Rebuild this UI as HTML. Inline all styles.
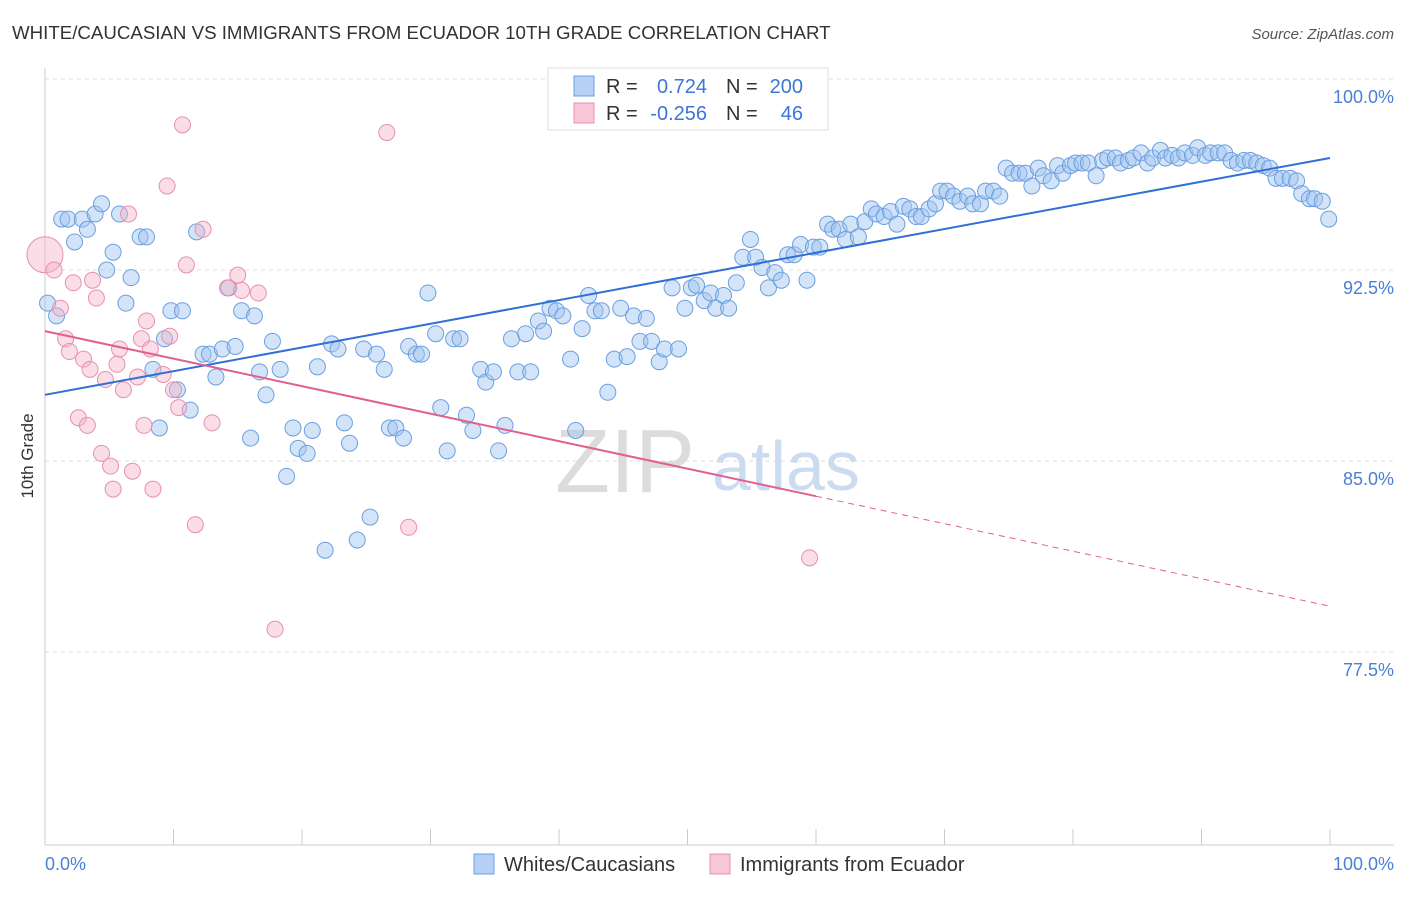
<!DOCTYPE html>
<html><head><meta charset="utf-8">
<style>
body{margin:0;background:#fff;font-family:"Liberation Sans",sans-serif;}
svg text{font-family:"Liberation Sans",sans-serif;}
</style></head>
<body>
<svg id="chart" width="1406" height="892" viewBox="0 0 1406 892" xmlns="http://www.w3.org/2000/svg">
<text x="12" y="39" font-size="18.7" fill="#333">WHITE/CAUCASIAN VS IMMIGRANTS FROM ECUADOR 10TH GRADE CORRELATION CHART</text>
<text x="1394" y="39" font-size="15" fill="#555" font-style="italic" text-anchor="end">Source: ZipAtlas.com</text>
<g id="grid"></g>
<g id="watermark">
<text x="555" y="492" font-size="90" fill="#dcdcdc" font-family="Liberation Serif">ZIP</text>
<text x="712" y="490" font-size="70" fill="#ccdcf0">atlas</text>
</g>
<g id="points"></g>
<g id="trends"></g>
<text transform="translate(33,456) rotate(-90)" font-size="17" fill="#333" text-anchor="middle">10th Grade</text>
<text x="45" y="870" font-size="18" fill="#4a7fd6">0.0%</text>
<text x="1394" y="870" font-size="18" fill="#4a7fd6" text-anchor="end">100.0%</text>
<g>
<rect x="548" y="68" width="280" height="62" fill="#fff" stroke="#ddd"/>
<rect x="574" y="76" width="20" height="20" fill="#b7d0f5" stroke="#6a9fe0"/>
<rect x="574" y="103" width="20" height="20" fill="#f8c8d8" stroke="#e890ad"/>
<text x="606" y="93" font-size="20" fill="#333">R = </text><text x="707" y="93" font-size="20" fill="#3c76d6" text-anchor="end">0.724</text>
<text x="726" y="93" font-size="20" fill="#333">N = </text><text x="803" y="93" font-size="20" fill="#3c76d6" text-anchor="end">200</text>
<text x="606" y="120" font-size="20" fill="#333">R = </text><text x="707" y="120" font-size="20" fill="#3c76d6" text-anchor="end">-0.256</text>
<text x="726" y="120" font-size="20" fill="#333">N = </text><text x="803" y="120" font-size="20" fill="#3c76d6" text-anchor="end">46</text>
</g>
<g>
<rect x="474" y="854" width="20" height="20" fill="#b7d0f5" stroke="#6a9fe0"/>
<text x="504" y="871" font-size="20" fill="#333">Whites/Caucasians</text>
<rect x="710" y="854" width="20" height="20" fill="#f8c8d8" stroke="#e890ad"/>
<text x="740" y="871" font-size="20" fill="#333">Immigrants from Ecuador</text>
</g>
</svg>
<script>
const yTicks=[100,92.5,85,77.5];
const yTickLabels=["100.0%","92.5%","85.0%","77.5%"];
const xTicks=[0,10,20,30,40,50,60,70,80,90,100];
const blueX=[0.2,0.9,1.3,1.8,2.3,2.9,3.3,3.9,4.4,4.8,5.3,5.8,6.3,6.7,7.4,7.9,8.4,8.9,9.3,9.8,10.3,10.7,11.3,11.8,12.3,12.8,13.3,13.8,14.3,14.8,15.3,16.0,16.3,16.7,17.2,17.7,18.3,18.8,19.3,19.7,20.4,20.8,21.2,21.8,22.3,22.8,23.3,23.7,24.3,24.8,25.3,25.8,26.4,26.8,27.3,27.9,28.3,28.9,29.3,29.8,30.4,30.8,31.3,31.8,32.3,32.8,33.3,33.9,34.3,34.9,35.3,35.8,36.3,36.8,37.4,37.8,38.4,38.8,39.3,39.8,40.3,40.9,41.3,41.8,42.3,42.8,43.3,43.8,44.3,44.8,45.3,45.8,46.3,46.8,47.2,47.8,48.2,48.8,49.3,49.8,50.3,50.7,51.3,51.8,52.2,52.8,53.2,53.8,54.3,54.9,55.3,55.8,56.3,56.8,57.3,57.8,58.3,58.8,59.3,59.8,60.3,60.9,61.3,61.8,62.3,62.7,63.3,63.8,64.3,64.7,65.3,65.8,66.3,66.8,67.3,67.8,68.2,68.8,69.3,69.7,70.2,70.7,71.2,71.8,72.2,72.8,73.2,73.8,74.3,74.8,75.3,75.8,76.3,76.8,77.3,77.7,78.3,78.8,79.2,79.8,80.2,80.7,81.2,81.8,82.3,82.7,83.3,83.7,84.3,84.7,85.3,85.8,86.2,86.8,87.2,87.7,88.2,88.7,89.3,89.7,90.3,90.7,91.3,91.8,92.3,92.8,93.3,93.8,94.3,94.8,95.3,95.8,96.3,96.9,97.4,97.8,98.4,98.8,99.4,99.9];
const blueY=[91.2,90.7,94.5,94.5,93.6,94.5,94.1,94.7,95.1,92.5,93.2,94.7,91.2,92.2,93.8,93.8,88.6,86.3,89.8,90.9,87.8,90.9,87.0,94.0,89.2,89.2,88.3,89.4,91.8,89.5,90.9,85.9,90.7,88.5,87.6,89.7,88.6,84.4,86.3,85.5,85.3,86.2,88.7,81.5,89.6,89.4,86.5,85.7,81.9,89.4,82.8,89.2,88.6,86.3,86.3,85.9,89.5,89.2,89.2,91.6,90.0,87.1,85.4,89.8,89.8,86.8,86.2,88.6,88.1,88.5,85.4,86.4,89.8,88.5,90.0,88.5,90.5,90.1,91.0,90.9,90.7,89.0,86.2,90.2,91.5,90.9,90.9,87.7,89.0,91.0,89.1,90.7,89.7,90.6,89.7,88.9,89.4,91.8,89.4,91.0,91.8,91.9,91.3,91.6,91.0,91.5,91.0,92.0,93.0,93.7,93.0,92.6,91.8,92.4,92.1,93.1,93.1,93.5,92.1,93.4,93.4,94.3,94.1,94.1,93.7,94.3,93.8,94.4,94.9,94.7,94.6,94.8,94.3,95.0,94.9,94.6,94.6,94.9,95.1,95.6,95.6,95.4,95.2,95.4,95.1,95.1,95.6,95.6,95.4,96.5,96.3,96.3,96.3,95.8,96.5,96.2,96.0,96.6,96.3,96.6,96.7,96.7,96.7,96.2,96.8,96.9,96.9,96.7,96.8,96.9,97.1,96.7,96.9,97.2,96.9,97.0,96.9,97.1,97.0,97.3,97.0,97.1,97.1,97.1,96.8,96.7,96.8,96.8,96.7,96.6,96.5,96.1,96.1,96.1,96.0,95.5,95.3,95.3,95.2,94.5];
const pinkX=[0.0,0.7,1.2,1.6,1.9,2.2,2.6,3.0,3.3,3.5,3.7,4.0,4.4,4.7,5.1,5.3,5.6,5.8,6.1,6.5,6.8,7.2,7.5,7.7,7.9,8.2,8.4,9.2,9.5,9.7,10.0,10.4,10.7,11.0,11.7,12.3,13.0,14.2,15.0,15.3,16.6,17.9,26.6,28.3,59.5];
const pinkY=[93.1,92.5,91.0,89.8,89.3,92.0,86.7,89.0,86.4,88.6,92.1,91.4,85.3,88.2,84.8,83.9,88.8,89.4,87.8,94.7,84.6,88.3,89.8,86.4,90.5,89.4,83.9,88.4,95.8,89.9,87.8,87.1,98.2,92.7,82.5,94.1,86.5,91.8,92.3,91.7,91.6,78.4,97.9,82.4,81.2];
const blueTrend=[87.6,96.9];
const pinkTrend=[90.1,79.3];
const pinkSolidEnd=60;

const NS="http://www.w3.org/2000/svg";
const X0=45,X1=1330,YTOP=79,PXPER=25.47;
function sx(v){return X0+(X1-X0)*v/100;}
function sy(v){return YTOP+(100-v)*PXPER;}
function mk(tag,attrs,parent){const e=document.createElementNS(NS,tag);for(const k in attrs)e.setAttribute(k,attrs[k]);parent.appendChild(e);return e;}
const grid=document.getElementById('grid');
yTicks.forEach((t,i)=>{
  const l=mk('line',{x1:45,x2:1394,y1:sy(t),y2:sy(t),stroke:'#ddd','stroke-dasharray':'4,4'},grid);
  
  
  const tx=mk('text',{x:1394,y:sy(t)+24,'font-size':18,fill:'#4a7fd6','text-anchor':'end'},grid);
  tx.textContent=yTickLabels[i];
  
  
});
const ax=mk('line',{x1:45,x2:45,y1:68,y2:845,stroke:'#ccc'},grid);


const bx=mk('line',{x1:45,x2:1394,y1:845,y2:845,stroke:'#ccc'},grid);


xTicks.forEach(t=>{
  const l=mk('line',{x1:sx(t),x2:sx(t),y1:829,y2:845,stroke:'#ccc'},grid);
  
  
});
const pts=document.getElementById('points');
blueX.forEach((x,i)=>{
  const c=mk('circle',{cx:sx(x),cy:sy(blueY[i]),r:8,fill:'rgba(160,195,240,0.45)',stroke:'#6a9fe0','stroke-width':1},pts);
  
  
});
pinkX.forEach((x,i)=>{
  const c=mk('circle',{cx:sx(x),cy:sy(pinkY[i]),r:i===0?18:8,fill:'rgba(245,180,200,0.45)',stroke:'#e890ad','stroke-width':1},pts);
  
  
});
const tr=document.getElementById('trends');
const bt=mk('line',{x1:sx(0),y1:sy(blueTrend[0]),x2:sx(100),y2:sy(blueTrend[1]),stroke:'#2f6fd6','stroke-width':2},tr);


const pm=pinkTrend[0]+(pinkTrend[1]-pinkTrend[0])*pinkSolidEnd/100;
const pt=mk('line',{x1:sx(0),y1:sy(pinkTrend[0]),x2:sx(pinkSolidEnd),y2:sy(pm),stroke:'#e0608f','stroke-width':2},tr);


const pd=mk('line',{x1:sx(pinkSolidEnd),y1:sy(pm),x2:sx(100),y2:sy(pinkTrend[1]),stroke:'#e0608f','stroke-width':1,'stroke-dasharray':'6,5'},tr);


</script>
</body></html>
